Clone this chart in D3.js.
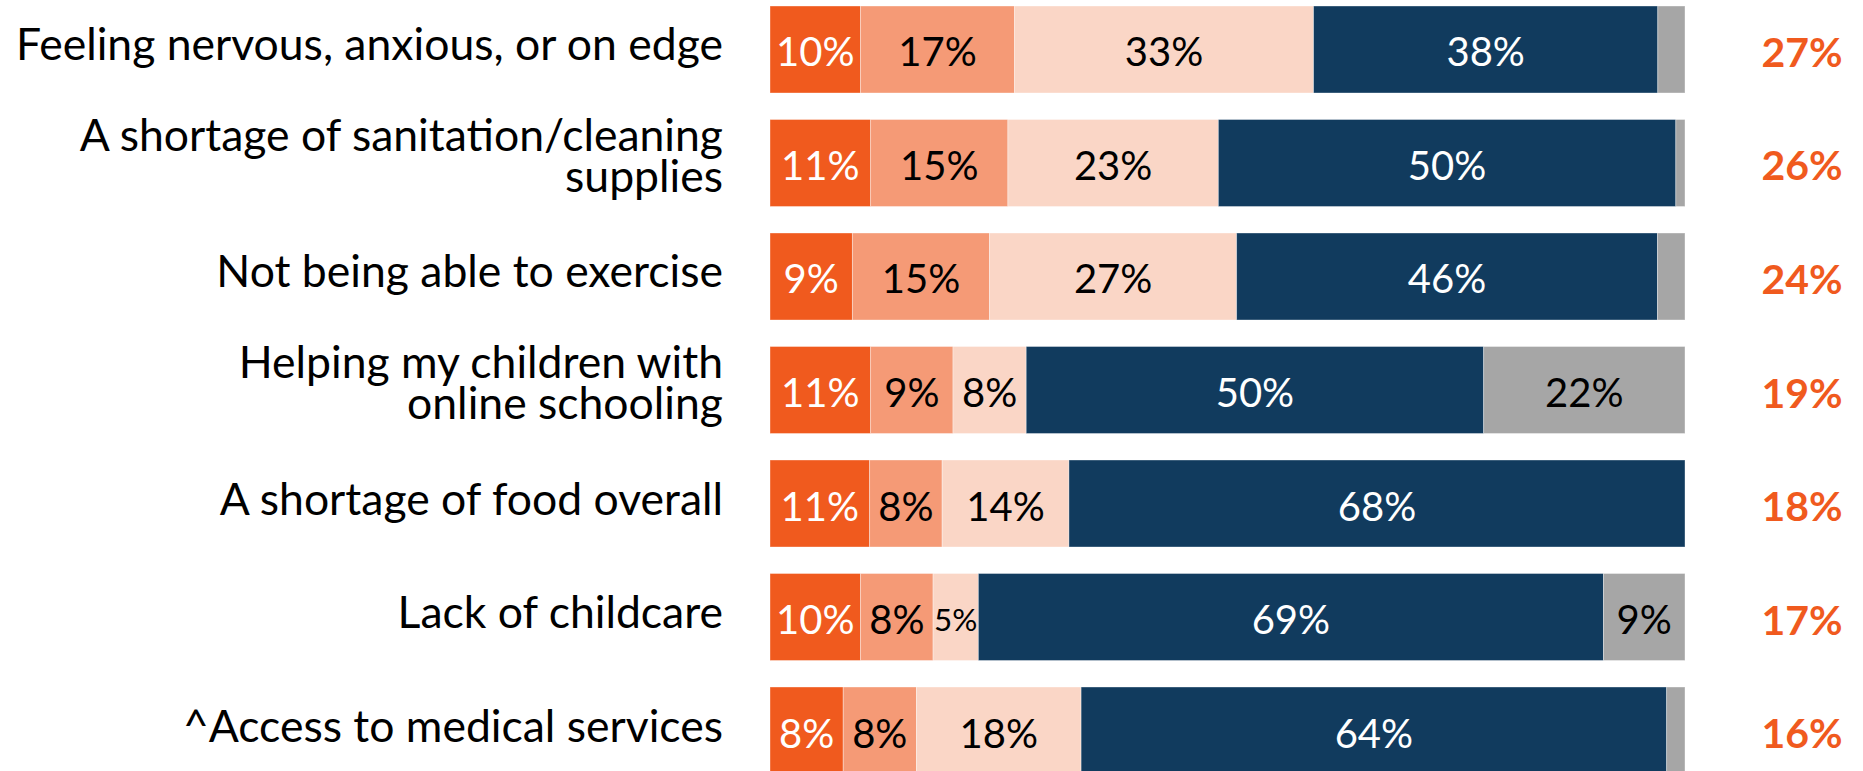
<!DOCTYPE html>
<html>
  <head>
    <meta charset="utf-8">
    <title>Worries</title>
    <script src="https://cdn.jsdelivr.net/npm/d3@7"></script>
    <style>
      body { margin: 0; background: #fff; }
      .cat text {
        font-family: 'Lato';
        font-size: 44.5px;
        fill: #000;
        text-anchor: end;
      }
      .seg-label {
        font-family: 'Lato';
        font-size: 40px;
        text-anchor: middle;
        dominant-baseline: central;
      }
      .total {
        font-family: 'Lato';
        font-weight: bold;
        font-size: 41px;
        fill: #f05a1e;
        text-anchor: middle;
        dominant-baseline: central;
      }
    </style>
  </head>
  <body>
    <script>

      var categories = [
        "Feeling nervous, anxious, or on edge",
        "A shortage of sanitation/cleaning\nsupplies",
        "Not being able to exercise",
        "Helping my children with\nonline schooling",
        "A shortage of food overall",
        "Lack of childcare",
        "^Access to medical services"
      ];
      var veryWorried      = [10, 11,  9, 11, 11, 10,  8];
      var somewhatWorried  = [17, 15, 15,  9,  8,  8,  8];
      var notTooWorried    = [33, 23, 27,  8, 14,  5, 18];
      var notAtAllWorried  = [38, 50, 46, 50, 68, 69, 64];
      var notApplicable    = [ 3,  1,  3, 22,  0,  9,  2];
      var totalWorried     = [27, 26, 24, 19, 18, 17, 16];

      var keys = ["very", "somewhat", "notToo", "notAtAll", "na"];
      var colors = ["#f05a1e", "#f59a76", "#fad6c6", "#113b5e", "#a6a6a6"];
      var textColors = ["#fff", "#000", "#000", "#fff", "#000"];

      var outerWidth = 1863;
      var outerHeight = 771;

      var rows = categories.map(function(c, i) {
        return {
          category: c,
          very: veryWorried[i],
          somewhat: somewhatWorried[i],
          notToo: notTooWorried[i],
          notAtAll: notAtAllWorried[i],
          na: notApplicable[i]
        };
      });

      var svg = d3.select("body").append("svg")
        .attr("width", outerWidth)
        .attr("height", outerHeight);

      var xScale = d3.scaleLinear()
        .domain([0, 1])
        .range([770, 1685]);
      var yScale = d3.scaleBand()
        .domain(categories)
        .range([6, 774])
        .paddingInner(0.2335)
        .paddingOuter(0);
      var color = d3.scaleOrdinal().domain(keys).range(colors);

      var stack = d3.stack()
        .keys(keys)
        .offset(d3.stackOffsetExpand);
      var series = stack(rows);

      var layers = svg.selectAll("g.layer")
        .data(series)
        .enter().append("g")
        .attr("class", "layer")
        .attr("fill", function(d) { return color(d.key); });

      layers.selectAll("rect")
        .data(function(d) { return d; })
        .enter().append("rect")
        .attr("x", function(d) { return xScale(d[0]); })
        .attr("y", function(d) { return yScale(d.data.category); })
        .attr("width", function(d) { return Math.max(0, xScale(d[1]) - xScale(d[0])); })
        .attr("height", yScale.bandwidth())
        .attr("stroke", "#fff")
        .attr("stroke-opacity", 0.45)
        .attr("stroke-width", 0.8);

      // segment labels (only for 5% and up)
      series.forEach(function(s, si) {
        s.forEach(function(d) {
          var v = d.data[s.key];
          if (v < 5) return;
          var w = xScale(d[1]) - xScale(d[0]);
          var t = svg.append("text")
            .attr("class", "seg-label")
            .attr("x", (xScale(d[0]) + xScale(d[1])) / 2)
            .attr("y", yScale(d.data.category) + yScale.bandwidth() / 2 + 2)
            .attr("fill", textColors[si])
            .text(v + "%");
          var tw = t.node().getComputedTextLength();
          if (tw > w - 2) t.style("font-size", (40 * (w - 2) / tw) + "px");
        });
      });

      // category labels
      var cat = svg.append("g").attr("class", "cat");
      categories.forEach(function(c) {
        var lines = c.split("\n");
        var cy = yScale(c) + yScale.bandwidth() / 2;
        var t = cat.append("text").attr("x", 723);
        if (lines.length == 1) {
          t.attr("y", cy + 11).text(lines[0]);
        } else {
          t.append("tspan").attr("x", 723).attr("y", cy - 12).text(lines[0]);
          t.append("tspan").attr("x", 723).attr("y", cy + 29).text(lines[1]);
        }
      });

      // totals on the right
      svg.selectAll("text.total")
        .data(totalWorried)
        .enter().append("text")
        .attr("class", "total")
        .attr("x", 1802)
        .attr("y", function(d, i) { return yScale(categories[i]) + yScale.bandwidth() / 2 + 2; })
        .text(function(d) { return d + "%"; });

    </script>
  </body>
</html>
